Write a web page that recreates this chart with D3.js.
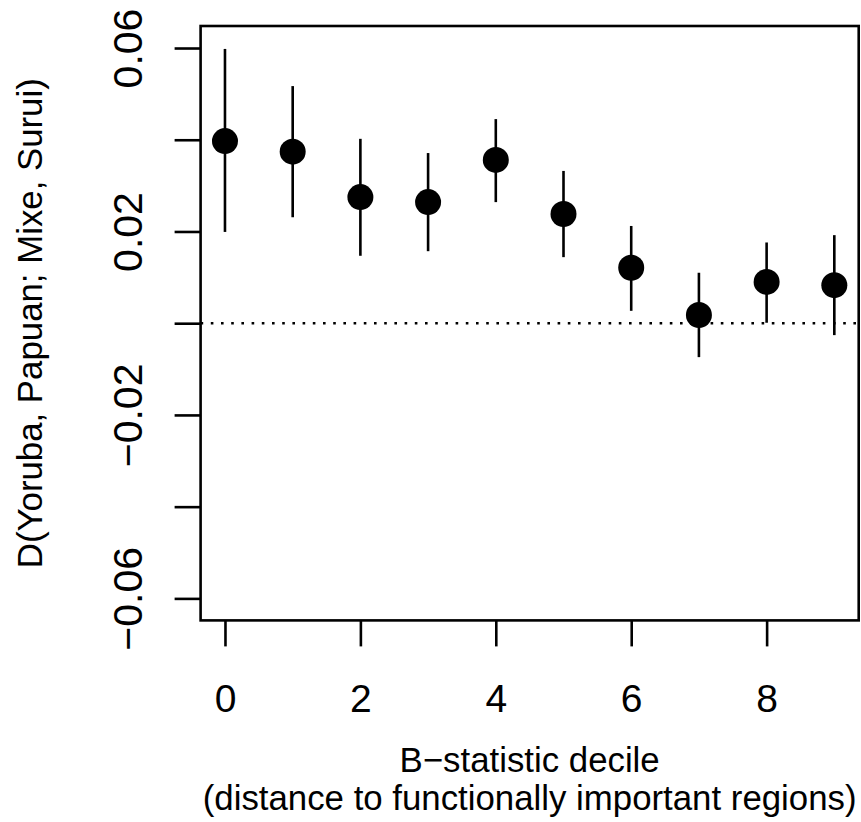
<!DOCTYPE html>
<html>
<head>
<meta charset="utf-8">
<script src="https://cdn.jsdelivr.net/npm/d3@7"></script>
<style>
  html, body { margin: 0; padding: 0; background: #fff; }
  svg { display: block; }
  text { font-family: "Liberation Sans", Arial, Helvetica, sans-serif; fill: #000; }
</style>
</head>
<body>
<svg id="chart" width="861" height="822"></svg>
<script>
// B-statistic deciles and the D-statistic estimate with its interval for each
const deciles = [0, 1, 2, 3, 4, 5, 6, 7, 8, 9];
const dValues = [0.0397, 0.0374, 0.0275, 0.0264, 0.0356, 0.0238, 0.0121, 0.0018, 0.0090, 0.0083];
const dLower  = [0.0199, 0.0231, 0.0147, 0.0157, 0.0264, 0.0144, 0.0027, -0.0074, 0.0001, -0.0026];
const dUpper  = [0.0598, 0.0517, 0.0402, 0.0371, 0.0445, 0.0332, 0.0212, 0.0110, 0.0176, 0.0192];

const xTicks = [0, 2, 4, 6, 8];
const yTicks = [-0.06, -0.04, -0.02, 0, 0.02, 0.04, 0.06];
const yTickLabels = ["\u22120.06", "", "\u22120.02", "", "0.02", "", "0.06"];

const xLabelLines = ["B\u2212statistic decile", "(distance to functionally important regions)"];
const yLabel = "D(Yoruba, Papuan; Mixe, Surui)";

// R-style axis limits: data range padded by 4% on each side
const xLim = [0, 9], yLim = [-0.06, 0.06];
const xPad = (xLim[1] - xLim[0]) * 0.04, yPad = (yLim[1] - yLim[0]) * 0.04;

const plot = { left: 200.6, right: 858.7, top: 26, bottom: 620.4 };
const lw = 2.6;

const svg = d3.select("#chart");

const x = d3.scaleLinear().domain([xLim[0] - xPad, xLim[1] + xPad]).range([plot.left, plot.right]);
const y = d3.scaleLinear().domain([yLim[0] - yPad, yLim[1] + yPad]).range([plot.bottom, plot.top]);

// reference line at zero
svg.append("line")
  .attr("x1", plot.left).attr("x2", plot.right)
  .attr("y1", y(0)).attr("y2", y(0))
  .attr("stroke", "#000").attr("stroke-width", lw)
  .attr("stroke-dasharray", "2.6,7.6");

// interval whiskers
const data = deciles.map((d, i) => ({ d, v: dValues[i], lo: dLower[i], hi: dUpper[i] }));
svg.append("g").selectAll("line").data(data).join("line")
  .attr("x1", p => x(p.d)).attr("x2", p => x(p.d))
  .attr("y1", p => y(p.lo)).attr("y2", p => y(p.hi))
  .attr("stroke", "#000").attr("stroke-width", lw);

// point estimates
svg.append("g").selectAll("circle").data(data).join("circle")
  .attr("cx", p => x(p.d)).attr("cy", p => y(p.v))
  .attr("r", 13).attr("fill", "#000");

// plot frame
svg.append("rect")
  .attr("x", plot.left).attr("y", plot.top)
  .attr("width", plot.right - plot.left).attr("height", plot.bottom - plot.top)
  .attr("fill", "none").attr("stroke", "#000").attr("stroke-width", lw);

// x axis
const xAxis = svg.append("g")
  .attr("transform", `translate(0,${plot.bottom})`)
  .call(d3.axisBottom(x).tickValues(xTicks).tickSize(26).tickFormat(d3.format("d")));
xAxis.select(".domain").remove();
xAxis.selectAll(".tick line").attr("stroke", "#000").attr("stroke-width", lw);
xAxis.selectAll(".tick text")
  .attr("y", 92).attr("dy", 0)
  .attr("font-size", 39).attr("fill", "#000")
  .attr("font-family", "Liberation Sans, Arial, sans-serif");

// y axis with labels drawn parallel to the axis
const yAxis = svg.append("g")
  .attr("transform", `translate(${plot.left},0)`)
  .call(d3.axisLeft(y).tickValues(yTicks).tickSize(26).tickFormat((d, i) => yTickLabels[i]));
yAxis.select(".domain").remove();
yAxis.selectAll(".tick line").attr("stroke", "#000").attr("stroke-width", lw);
yAxis.selectAll(".tick text")
  .attr("transform", "rotate(-90)")
  .attr("x", 0).attr("y", -58.5).attr("dy", 0)
  .attr("text-anchor", "middle")
  .attr("font-size", 41).attr("fill", "#000")
  .attr("font-family", "Liberation Sans, Arial, sans-serif");

// axis titles: the x title is two separate lines
const midX = (plot.left + plot.right) / 2;
const titleSize = 34.8;
svg.append("g").selectAll("text").data(xLabelLines).join("text")
  .attr("x", midX)
  .attr("y", (d, i) => 771.5 + i * 38)
  .attr("text-anchor", "middle")
  .attr("font-size", titleSize)
  .text(d => d);

svg.append("text")
  .attr("transform", `translate(42,${(plot.top + plot.bottom) / 2}) rotate(-90)`)
  .attr("text-anchor", "middle")
  .attr("font-size", titleSize)
  .text(yLabel);
</script>
</body>
</html>
